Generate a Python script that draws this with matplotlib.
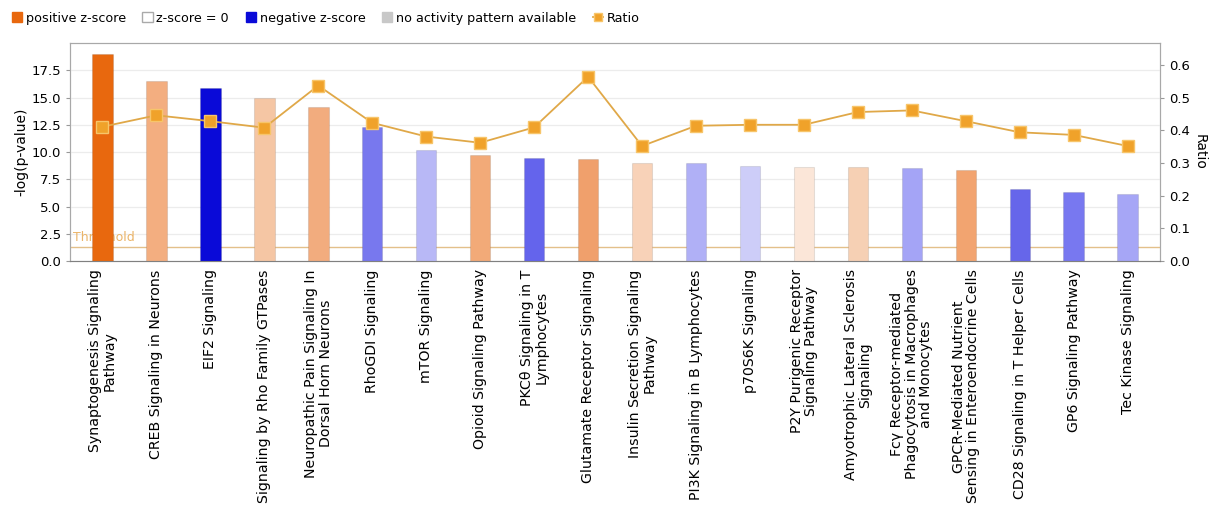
import matplotlib
matplotlib.use("Agg")
import matplotlib.pyplot as plt
from matplotlib.patches import Patch
from matplotlib.lines import Line2D
import numpy as np

# canonical pathways, top 20 by significance
pathways = [
    "Synaptogenesis Signaling\nPathway",
    "CREB Signaling in Neurons",
    "EIF2 Signaling",
    "Signaling by Rho Family GTPases",
    "Neuropathic Pain Signaling In\nDorsal Horn Neurons",
    "RhoGDI Signaling",
    "mTOR Signaling",
    "Opioid Signaling Pathway",
    "PKCθ Signaling in T\nLymphocytes",
    "Glutamate Receptor Signaling",
    "Insulin Secretion Signaling\nPathway",
    "PI3K Signaling in B Lymphocytes",
    "p70S6K Signaling",
    "P2Y Purigenic Receptor\nSignaling Pathway",
    "Amyotrophic Lateral Sclerosis\nSignaling",
    "Fcγ Receptor-mediated\nPhagocytosis in Macrophages\nand Monocytes",
    "GPCR-Mediated Nutrient\nSensing in Enteroendocrine Cells",
    "CD28 Signaling in T Helper Cells",
    "GP6 Signaling Pathway",
    "Tec Kinase Signaling",
]
neg_log_p = [19.0, 16.5, 15.9, 15.0, 14.1, 12.3, 10.2, 9.7, 9.45, 9.33,
             9.02, 9.0, 8.75, 8.65, 8.65, 8.5, 8.35, 6.6, 6.33, 6.2]
ratio = [0.411, 0.446, 0.428, 0.408, 0.537, 0.423, 0.381, 0.362, 0.409, 0.564,
         0.352, 0.414, 0.417, 0.417, 0.456, 0.461, 0.428, 0.394, 0.386, 0.352]
# bar shade follows z-score sign and magnitude
bar_colors = ["#E8680E", "#F3AE80", "#0A0AD8", "#F5C6A4", "#F2AC7E",
              "#7878EE", "#B8B8F6", "#F2AA78", "#6464EC", "#F0A06C",
              "#F8D2B8", "#B0B0F6", "#CDCDF8", "#FBE6D8", "#F6D0B4",
              "#A4A4F6", "#F2A470", "#6666EA", "#7878F0", "#A6A6F6"]
threshold = 1.3

x = np.arange(len(pathways))

fig = plt.figure(figsize=(12.16, 5.27), dpi=100)
ax = fig.add_axes([0.0576, 0.5047, 0.8964, 0.4133])
ax2 = ax.twinx()

ax.set_zorder(1)
ax.patch.set_visible(False)
ax2.set_zorder(0)

ax.yaxis.grid(True, color="#ECECEC", lw=0.9)
ax.set_axisbelow(True)
ax.bar(x, neg_log_p, width=0.38, color=bar_colors,
       edgecolor="#00000018", linewidth=0.8, zorder=2)

ax.axhline(threshold, color="#E3C08A", lw=1.0, zorder=1)
ax.text(-0.55, threshold + 0.25, "Threshold", color="#EBB56A", fontsize=9,
        ha="left", va="bottom", zorder=1)

# ratio line drawn on top of the bars
ratio_ax = ax.twinx()
ratio_ax.set_zorder(2)
ratio_ax.patch.set_visible(False)
ratio_ax.plot(x, ratio, color="#E0A848", lw=1.3, marker="s", ms=8,
              markerfacecolor="#F0A22A", markeredgecolor="#F7C56A",
              markeredgewidth=1.0)
ratio_ax.set_ylim(0, 2 / 3)
ratio_ax.set_yticks([])
for s in ratio_ax.spines.values():
    s.set_visible(False)

ax.set_xlim(-0.6, len(pathways) - 0.4)
ax.set_ylim(0, 20)
ax.set_yticks(np.arange(0, 17.6, 2.5))
ax.set_yticklabels([f"{v:.1f}" for v in np.arange(0, 17.6, 2.5)], fontsize=9.5)
ax.set_ylabel("-log(p-value)", fontsize=10, labelpad=2)

ax2.set_ylim(0, 2 / 3)
ax2.set_yticks(np.arange(0, 0.61, 0.1))
ax2.set_yticklabels([f"{v:.1f}" for v in np.arange(0, 0.61, 0.1)], fontsize=9.5)
ax2.set_ylabel("Ratio", fontsize=10, rotation=270, labelpad=12)

ax.set_xticks(x)
ax.set_xticklabels(pathways, rotation=90, fontsize=10.2, ha="center",
                   va="top", multialignment="center", linespacing=1.05)
ax.tick_params(axis="x", length=0, pad=6)
ax.tick_params(axis="y", length=3, color="#999999")
ax2.tick_params(axis="y", length=3, color="#999999")

for a in (ax, ax2):
    for s in a.spines.values():
        s.set_color("#A8A8A8")
ax.spines["bottom"].set_color("#808080")

handles = [
    Patch(facecolor="#E8680E", edgecolor="#E8680E"),
    Patch(facecolor="white", edgecolor="#AAAAAA"),
    Patch(facecolor="#0A0AD8", edgecolor="#0A0AD8"),
    Patch(facecolor="#C8C8C8", edgecolor="#C8C8C8"),
    Line2D([0], [0], color="#E0A848", lw=1.3, marker="s", ms=6,
           markerfacecolor="#F0A22A", markeredgecolor="#F7C56A"),
]
labels = ["positive z-score", "z-score = 0", "negative z-score",
          "no activity pattern available", "Ratio"]
fig.legend(handles, labels, loc="upper left", bbox_to_anchor=(0.0, 1.0),
           ncol=5, frameon=False, fontsize=9.2, handlelength=0.8,
           handleheight=0.9, handletextpad=0.3, columnspacing=1.3)

fig.savefig("out.png", dpi=100)
